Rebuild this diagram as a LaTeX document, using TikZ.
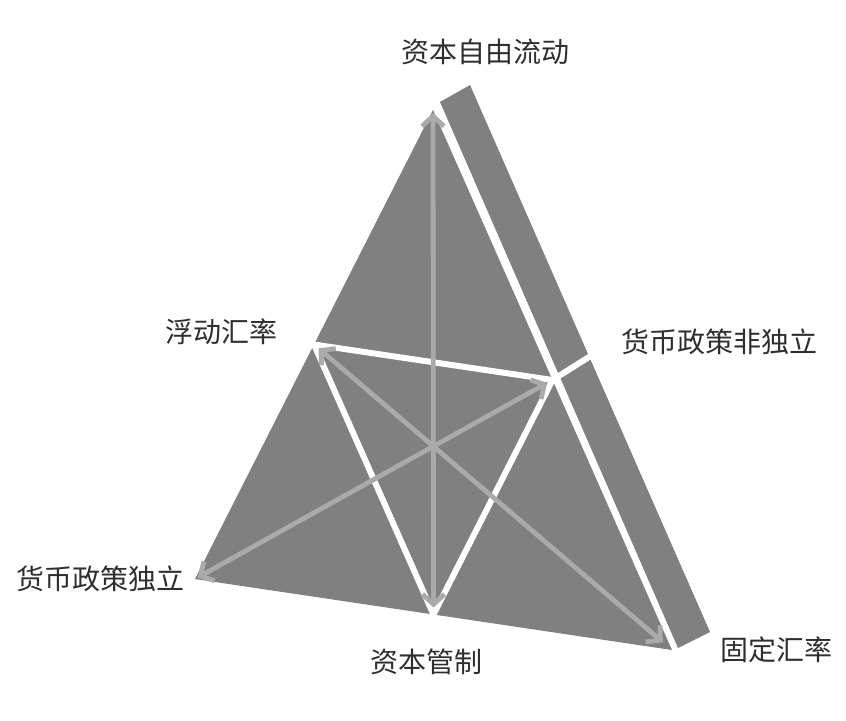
\documentclass[tikz,border=0pt]{standalone}
\usepackage{fontspec}
\newfontfamily\cjk{Noto Sans CJK SC}
\usepackage{xcolor}
\usepackage[]{tikz}
\usetikzlibrary{positioning,calc}
\usetikzlibrary{arrows.meta}
\definecolor{faceGray}{HTML}{808080}
\definecolor{arrowGray}{HTML}{AAAAAA}
\definecolor{textGray}{HTML}{2E2E2E}
\tikzstyle{faceFill} =[fill=faceGray, draw=none]
\tikzstyle{gapLine}  =[draw=white, line width=3pt]
\tikzstyle{linkArrow}=[arrowGray, line width=2.4pt, {Straight Barb[length=5pt,width=11pt]}-{Straight Barb[length=5pt,width=11pt]}]
\tikzstyle{nodeText} =[font=\cjk\fontsize{14}{16}\selectfont, text=textGray, inner sep=0pt]

\begin{document}
\begin{tikzpicture}[x=0.5pt, y=-0.5pt]
      \useasboundingbox (0,0) rectangle (846,721);
      \coordinate (A) at (433,110);
      \coordinate (B) at (195,579);
      \coordinate (C) at (672,650);
      \coordinate (AB) at ($(A)!0.5!(B)$);
      \coordinate (AC) at ($(A)!0.5!(C)$);
      \coordinate (BC) at ($(B)!0.5!(C)$);
      \coordinate (S1) at (440,102);
      \coordinate (S2) at (470,85);
      \coordinate (S3) at (710,632);
      \coordinate (S4) at (678,648);
      \coordinate (S5) at (589,357);
      \fill[faceFill] (S1) -- (S2) -- (S3) -- (S4) -- cycle;
      \fill[faceFill] (A) -- (B) -- (C) -- cycle;
      \draw[gapLine] (AC) -- ($(AC)!1.2!(S5)$);
      \draw[gapLine] (AB) -- (AC) -- (BC) -- cycle;
      \draw[linkArrow, shorten <=1.5pt, shorten >=3.5pt] (A) -- (BC);
      \draw[linkArrow, shorten <=3pt, shorten >=6pt] (AB) -- (C);
      \draw[linkArrow, shorten <=1.5pt, shorten >=3pt] (B) -- (AC);
      \node[nodeText] (free) at (485,52) {资本自由流动};
      \node[nodeText] (float) at (221,332) {浮动汇率};
      \node[nodeText] (dep) at (719,342) {货币政策非独立};
      \node[nodeText] (indep) [left=5pt of B] {货币政策独立};
      \node[nodeText] (control) at (426,662) {资本管制};
      \node[nodeText] (fixed) [right=24pt of C] {固定汇率};
    \end{tikzpicture}
\end{document}
